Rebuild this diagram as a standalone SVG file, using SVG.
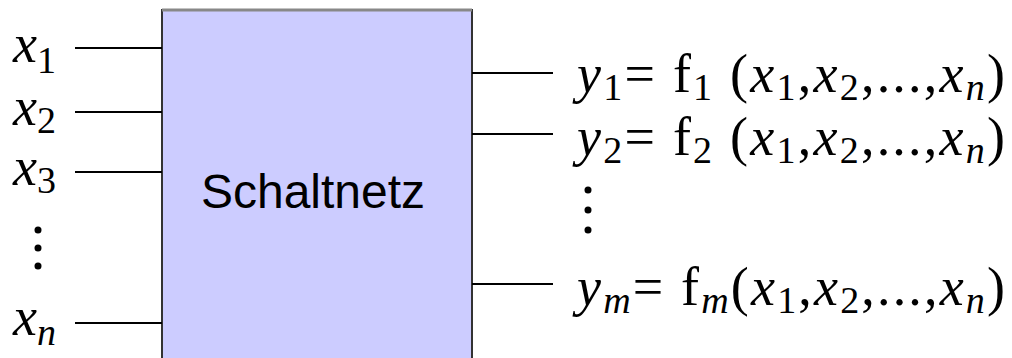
<svg xmlns="http://www.w3.org/2000/svg" width="1012" height="358" viewBox="0 0 1012 358">
<style>
text.m{font-family:"Liberation Serif","Times New Roman",serif;font-size:54px;fill:#000}
.i{font-style:italic}
.s{font-size:38px}
.w{stroke:#000;stroke-width:2;fill:none}
.dot{fill:#000}
</style>
<rect width="1012" height="358" fill="#fff"/>
<g id="schaltnetz">
<rect x="162" y="10" width="310" height="360" fill="#ccccff" stroke="#333" stroke-width="2"/>
<line x1="162" y1="10" x2="472" y2="10" stroke="#888" stroke-width="3"/>
<text x="313" y="208" text-anchor="middle" font-family="Liberation Sans, Arial, sans-serif" font-size="48" fill="#000">Schaltnetz</text>
</g>
<g id="connectors">
<line class="w" x1="75" y1="48" x2="162" y2="48"/>
<line class="w" x1="75" y1="112" x2="162" y2="112"/>
<line class="w" x1="75" y1="172" x2="162" y2="172"/>
<line class="w" x1="75" y1="323" x2="162" y2="323"/>
<line class="w" x1="472" y1="73" x2="553" y2="73"/>
<line class="w" x1="472" y1="134" x2="553" y2="134"/>
<line class="w" x1="472" y1="284" x2="553" y2="284"/>
</g>
<g id="inputs">
<text class="m i" x="13" y="62">x<tspan class="s" dy="11" font-style="normal">1</tspan></text>
<text class="m i" x="13" y="125">x<tspan class="s" dy="8" font-style="normal">2</tspan></text>
<text class="m i" x="13" y="185">x<tspan class="s" dy="8" font-style="normal">3</tspan></text>
<circle class="dot" cx="38" cy="230" r="3.5"/>
<circle class="dot" cx="38" cy="248" r="3.5"/>
<circle class="dot" cx="38" cy="266" r="3.5"/>
<text class="m i" x="13" y="335">x<tspan class="s" dy="10">n</tspan></text>
</g>
<g id="outputs">
<text class="m" x="577" y="92" textLength="428" lengthAdjust="spacing"><tspan class="i">y</tspan><tspan class="s" dy="8">1</tspan><tspan dy="-8">= f</tspan><tspan class="s" dy="8">1</tspan><tspan dy="-8"> (</tspan><tspan class="i">x</tspan><tspan class="s" dy="8">1</tspan><tspan dy="-8">,</tspan><tspan class="i">x</tspan><tspan class="s" dy="8">2</tspan><tspan dy="-8">,...,</tspan><tspan class="i">x</tspan><tspan class="s i" dy="8">n</tspan><tspan dy="-8">)</tspan></text>
<text class="m" x="577" y="155" textLength="428" lengthAdjust="spacing"><tspan class="i">y</tspan><tspan class="s" dy="8">2</tspan><tspan dy="-8">= f</tspan><tspan class="s" dy="8">2</tspan><tspan dy="-8"> (</tspan><tspan class="i">x</tspan><tspan class="s" dy="8">1</tspan><tspan dy="-8">,</tspan><tspan class="i">x</tspan><tspan class="s" dy="8">2</tspan><tspan dy="-8">,...,</tspan><tspan class="i">x</tspan><tspan class="s i" dy="8">n</tspan><tspan dy="-8">)</tspan></text>
<circle class="dot" cx="588" cy="190" r="3.5"/>
<circle class="dot" cx="588" cy="210" r="3.5"/>
<circle class="dot" cx="588" cy="230" r="3.5"/>
<text class="m" x="577" y="305" textLength="428" lengthAdjust="spacing"><tspan class="i">y</tspan><tspan class="s i" dy="8">m</tspan><tspan dy="-8">= f</tspan><tspan class="s i" dy="8">m</tspan><tspan dy="-8">(</tspan><tspan class="i">x</tspan><tspan class="s" dy="8">1</tspan><tspan dy="-8">,</tspan><tspan class="i">x</tspan><tspan class="s" dy="8">2</tspan><tspan dy="-8">,...,</tspan><tspan class="i">x</tspan><tspan class="s i" dy="8">n</tspan><tspan dy="-8">)</tspan></text>
</g>
</svg>
